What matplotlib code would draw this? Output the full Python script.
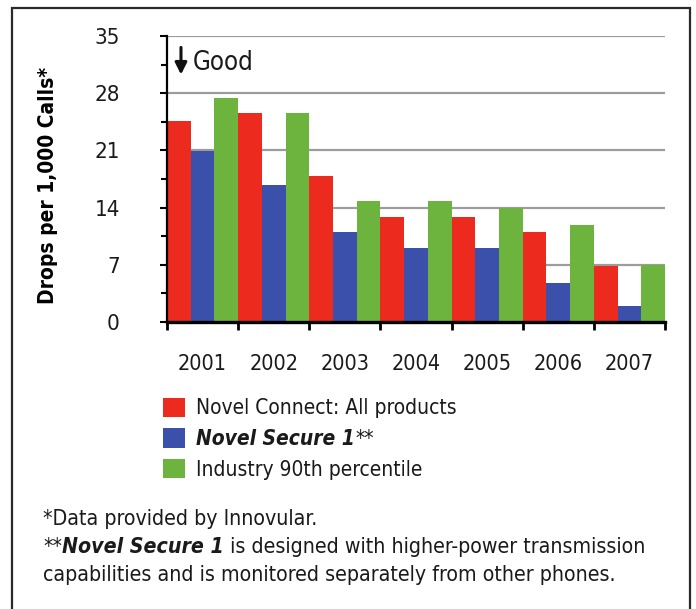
import numpy as np
import matplotlib.pyplot as plt
from matplotlib.patches import Rectangle

# drop rates per 1,000 calls, by year
years = ['2001', '2002', '2003', '2004', '2005', '2006', '2007']
novel_connect = [24.6, 25.6, 17.9, 12.9, 12.9, 11.0, 6.9]
novel_secure = [20.9, 16.8, 11.0, 9.1, 9.1, 4.8, 1.9]
industry_p90 = [27.4, 25.6, 14.8, 14.8, 13.9, 11.9, 7.0]

series_labels = ['Novel Connect: All products', 'Novel Secure 1', 'Industry 90th percentile']
colors = ['#ec2a1e', '#3a50ab', '#6cb43e']
y_ticks = [0, 7, 14, 21, 28, 35]

plt.rcParams['font.family'] = ['DejaVu Sans']
plt.rcParams['font.stretch'] = 'condensed'
plt.rcParams['text.color'] = '#1a1a1a'

fig = plt.figure(figsize=(6.96, 6.09), dpi=100)
fig.patch.set_facecolor('white')
ax = fig.add_axes([0.24, 0.4713, 0.7155, 0.4696])

x = np.arange(len(years))
w = 1 / 3
bars = []
for i, (vals, c) in enumerate(zip([novel_connect, novel_secure, industry_p90], colors)):
    b = ax.bar(x - 0.5 + w * (i + 0.5), vals, width=w, color=c, linewidth=0, zorder=2)
    bars.append(b)

ax.set_xlim(-0.5, len(years) - 0.5)
ax.set_ylim(0, 35)
for s in ('top', 'right'):
    ax.spines[s].set_visible(False)
ax.spines['left'].set_linewidth(1.6)
ax.spines['bottom'].set_linewidth(2.4)
ax.spines['left'].set_zorder(3)
ax.spines['bottom'].set_zorder(3)

ax.set_yticks(y_ticks)
ax.set_yticks(np.arange(3.5, 35, 7), minor=True)
ax.tick_params(axis='y', which='major', length=5, width=1.5, pad=29, labelsize=16,
               labelcolor='#1a1a1a')
ax.tick_params(axis='y', which='minor', length=4, width=1.5)
ax.yaxis.grid(True, color='#9c9c9c', linewidth=1.6)
ax.set_axisbelow(True)

ax.set_xticks(x, years)
ax.set_xticks(np.arange(-0.5, len(years), 1), minor=True)
ax.tick_params(axis='x', which='major', length=0, pad=23, labelsize=15.5, labelcolor='#1a1a1a')
ax.tick_params(axis='x', which='minor', length=6, width=2)

ax.set_ylabel('Drops per 1,000 Calls*', fontsize=15, fontweight='bold')
ax.yaxis.set_label_coords(-0.219, 0.479)

# "lower is better" marker
ax.annotate('', xy=(0.028, 0.865), xytext=(0.028, 0.96), xycoords='axes fraction',
            arrowprops=dict(arrowstyle='-|>,head_width=0.35,head_length=0.7',
                            color='#111111', lw=2.2, shrinkA=0, shrinkB=0))
ax.text(0.052, 0.905, 'Good', transform=ax.transAxes, fontsize=18.5, va='center', ha='left')

# legend
leg = fig.legend(bars, series_labels, loc='upper left', bbox_to_anchor=(0.234, 0.347),
                 frameon=False, fontsize=15, handlelength=1.05, handleheight=1.05,
                 handletextpad=0.55, labelspacing=0.47, borderaxespad=0, borderpad=0)
t2 = leg.get_texts()[1]
t2.set_fontweight('bold')
t2.set_fontstyle('italic')

# footnotes
fs = 15.3
fx = 0.062
fig.text(fx, 0.138, '*Data provided by Innovular.', fontsize=fs, va='baseline')
f2 = fig.text(fx, 0.092, '**', fontsize=fs, va='baseline')
f3 = fig.text(fx, 0.092, 'Novel Secure 1', fontsize=fs, va='baseline',
              fontweight='bold', fontstyle='italic')
f4 = fig.text(fx, 0.092, ' is designed with higher-power transmission', fontsize=fs,
              va='baseline')
fig.text(fx, 0.046, 'capabilities and is monitored separately from other phones.',
         fontsize=fs, va='baseline')

# place the inline pieces after a first layout pass
fig.canvas.draw()
inv = fig.transFigure.inverted()
def after(prev, txt):
    bb = prev.get_window_extent()
    txt.set_x(inv.transform((bb.x1, bb.y0))[0])

after(f2, f3)
after(f3, f4)
bb = t2.get_window_extent()
px, py = inv.transform((bb.x1, bb.y0))
fig.text(px, py, '**', fontsize=15, va='bottom')

# panel frame
fig.add_artist(Rectangle((0.0172, -0.1), 0.9742, 1.0869, transform=fig.transFigure,
                         fill=False, lw=1.6, ec='#2a2a2a'))

fig.savefig('out.png', dpi=100)
